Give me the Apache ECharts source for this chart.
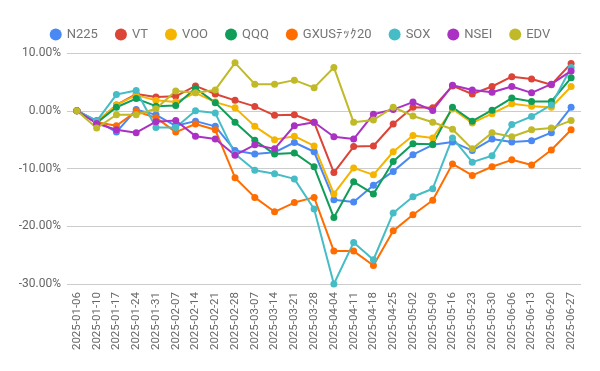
<!DOCTYPE html>
<html><head><meta charset="utf-8">
<script src="https://cdn.jsdelivr.net/npm/echarts@6/dist/echarts.min.js"></script>
<style>html,body{margin:0;padding:0;background:#fff}#c{width:600px;height:371px}</style>
</head><body><div id="c"></div>
<script>
const dates = ["2025-01-06","2025-01-10","2025-01-17","2025-01-24","2025-01-31","2025-02-07","2025-02-14","2025-02-21","2025-02-28","2025-03-07","2025-03-14","2025-03-21","2025-03-28","2025-04-04","2025-04-11","2025-04-18","2025-04-25","2025-05-02","2025-05-09","2025-05-16","2025-05-23","2025-05-30","2025-06-06","2025-06-13","2025-06-20","2025-06-27"];
const N225 = [0,-1.7,-3.7,0.2,-0.7,-2.6,-1.8,-2.7,-6.9,-7.5,-7.2,-5.5,-7.1,-15.4,-15.8,-12.9,-10.5,-7.6,-5.9,-5.4,-6.9,-4.9,-5.4,-5.2,-3.8,0.6];
const VT = [0,-2.0,1.0,2.9,2.4,2.5,4.3,2.9,1.8,0.75,-0.8,-0.7,-2.0,-10.7,-6.2,-6.1,-2.3,0.6,0.5,4.3,2.9,4.2,5.9,5.5,4.5,8.2];
const VOO = [0,-1.9,1.0,2.7,1.8,1.5,3.1,1.5,0.5,-2.7,-5.0,-4.4,-6.1,-14.4,-9.9,-11.1,-7.1,-4.3,-4.7,0.3,-2.1,-0.5,1.2,0.8,0.6,4.2];
const QQQ = [0,-2.1,0.6,2.1,0.8,0.9,3.9,1.4,-2.0,-5.1,-7.5,-7.3,-9.7,-18.5,-12.3,-14.4,-8.8,-5.7,-5.8,0.6,-1.8,0.1,2.2,1.6,1.6,5.7];
const GXUS = [0,-2.0,-2.6,-0.1,-1.2,-3.7,-2.3,-3.3,-11.6,-15.0,-17.5,-15.9,-15.0,-24.3,-24.3,-26.8,-20.8,-18.0,-15.5,-9.2,-11.2,-9.7,-8.5,-9.4,-6.8,-3.3];
const SOX = [0,-1.8,2.8,3.5,-2.9,-2.9,0.0,-0.4,-7.5,-10.3,-10.9,-11.8,-17.0,-30.0,-22.8,-25.8,-17.7,-14.9,-13.5,-4.7,-8.9,-7.8,-2.4,-1.0,1.0,7.5];
const NSEI = [0,-2.2,-3.3,-3.8,-1.9,-1.7,-4.4,-4.9,-7.7,-5.9,-6.6,-2.6,-2.0,-4.5,-4.9,-0.6,0.2,1.5,0.05,4.4,3.6,3.2,4.2,3.1,4.6,6.9];
const EDV = [0,-3.0,-0.7,-0.7,0.35,3.4,3.1,3.6,8.3,4.6,4.6,5.3,4.0,7.5,-2.0,-1.6,0.6,-0.9,-2.0,-3.2,-6.6,-3.8,-4.5,-3.3,-3.0,-1.7];
const yTicks = [-30,-20,-10,0,10];

const names = ["N225","VT","VOO","QQQ","GXUSﾃｯｸ20","SOX","NSEI","EDV"];
const datasets = [N225,VT,VOO,QQQ,GXUS,SOX,NSEI,EDV];
const colors = ["#4a89f3","#db4437","#f4b400","#0f9d58","#ff6d00","#46bdc6","#ab30c4","#c0b928"];

const chart = echarts.init(document.getElementById('c'));
chart.setOption({
  animation:false,
  color: colors,
  textStyle:{fontFamily:'Roboto, Arial, sans-serif'},
  legend:{
    top:23, left:'center', icon:'circle', itemWidth:12, itemHeight:12, itemGap:17,
    textStyle:{color:'#757575', fontSize:13, fontFamily:'Roboto'},
    data:names
  },
  grid:{left:67, right:19, top:53, bottom:87},
  xAxis:{
    type:'category', data:dates, boundaryGap:true,
    axisLine:{show:false}, axisTick:{show:false},
    axisLabel:{rotate:90, interval:0, color:'#666', fontSize:11.5, margin:8, fontFamily:'Roboto'}
  },
  yAxis:{
    type:'value', min:yTicks[0], max:yTicks[yTicks.length-1], interval:10,
    axisLine:{show:false}, axisTick:{show:false},
    splitLine:{lineStyle:{color:'#cccccc', width:1}},
    axisLabel:{formatter:v=>v.toFixed(2)+'%', color:'#666', fontSize:12, margin:6, fontFamily:'Roboto'}
  },
  series: names.map((n,i)=>({
    name:n, type:'line', data:datasets[i], symbol:'circle', symbolSize:7,
    lineStyle:{width:2}, itemStyle:{color:colors[i]}
  }))
});
</script></body></html>
